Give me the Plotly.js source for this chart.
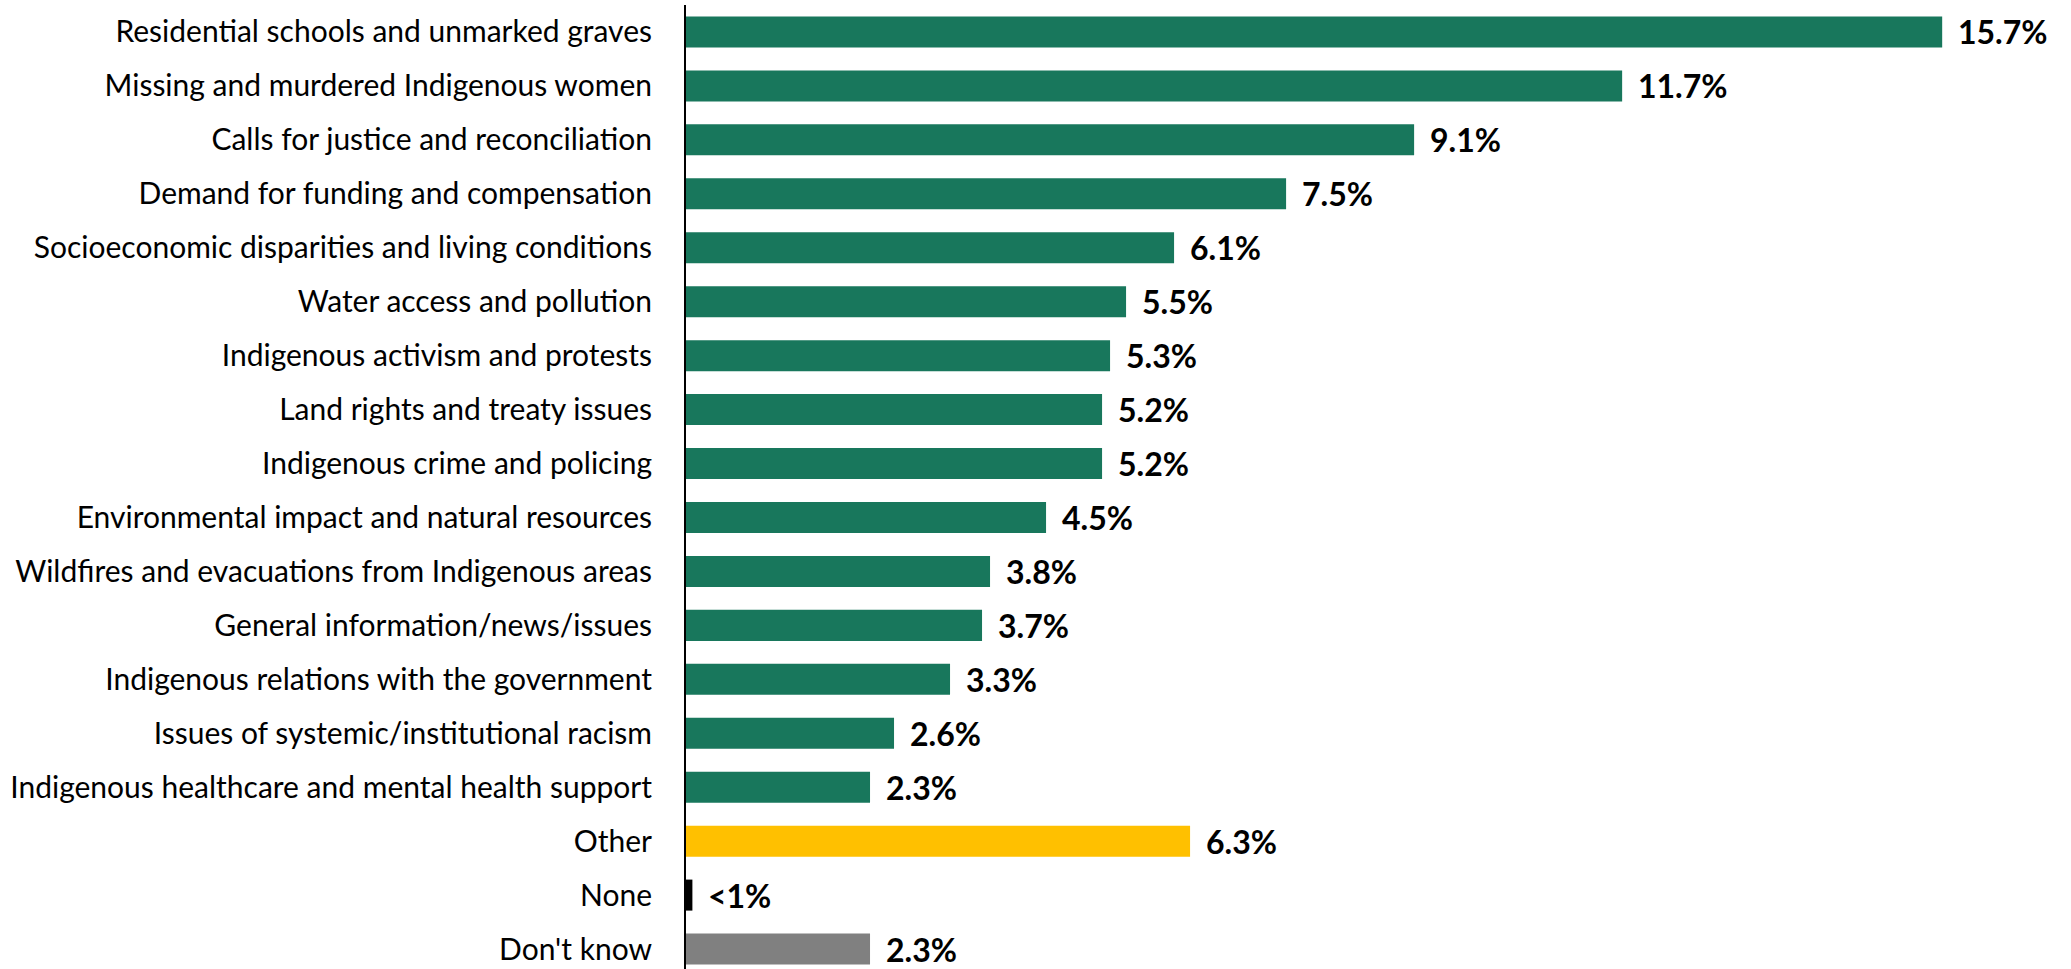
<!DOCTYPE html>
<html><head><meta charset="utf-8">
<script src="https://cdn.plot.ly/plotly-3.0.1.min.js"></script>
<style>body{margin:0;padding:0;overflow:hidden;background:#fff}#chart{width:2071px;height:969px}</style>
</head><body><div id="chart"></div>
<script>
const categories = ["Residential schools and unmarked graves","Missing and murdered Indigenous women","Calls for justice and reconciliation","Demand for funding and compensation","Socioeconomic disparities and living conditions","Water access and pollution","Indigenous activism and protests","Land rights and treaty issues","Indigenous crime and policing","Environmental impact and natural resources","Wildfires and evacuations from Indigenous areas","General information/news/issues","Indigenous relations with the government","Issues of systemic/institutional racism","Indigenous healthcare and mental health support","Other","None","Don't know"];
const values = [15.7,11.7,9.1,7.5,6.1,5.5,5.3,5.2,5.2,4.5,3.8,3.7,3.3,2.6,2.3,6.3,0.08,2.3];
const valueLabels = ["15.7%","11.7%","9.1%","7.5%","6.1%","5.5%","5.3%","5.2%","5.2%","4.5%","3.8%","3.7%","3.3%","2.6%","2.3%","6.3%","<1%","2.3%"];
const GREEN="#18775C", YELLOW="#FFC000", BLACK="#000000", GREY="#808080";
const colors = categories.map((c,i)=> c==="Other"?YELLOW : c==="None"?BLACK : c==="Don't know"?GREY : GREEN);

const trace = {type:'bar', orientation:'h', y:categories, x:values, marker:{color:colors}, width:0.575, hoverinfo:'none'};
const annotations = categories.map((c,i)=>({x:values[i], y:c, xref:'x', yref:'y', text:valueLabels[i], showarrow:false, xanchor:'left', yanchor:'middle', xshift:14, font:{family:'Lato, sans-serif', size:32, color:'#000', weight:700}}));

const layout = {
  width:2071, height:969,
  margin:{l:686, r:0, t:5, b:0},
  paper_bgcolor:'#fff', plot_bgcolor:'#fff',
  showlegend:false,
  xaxis:{range:[0,17.31], visible:false, showgrid:false, zeroline:false},
  yaxis:{type:'category', range:[17.37,-0.5], showline:true, linecolor:'#000', linewidth:2, ticks:'', showgrid:false, zeroline:false, ticklabelstandoff:26, tickfont:{family:'Lato, sans-serif', size:30, color:'#000'}},
  annotations:annotations,
  font:{family:'Lato, sans-serif'}
};
Plotly.newPlot('chart',[trace],layout,{staticPlot:true,displayModeBar:false});
</script></body></html>
